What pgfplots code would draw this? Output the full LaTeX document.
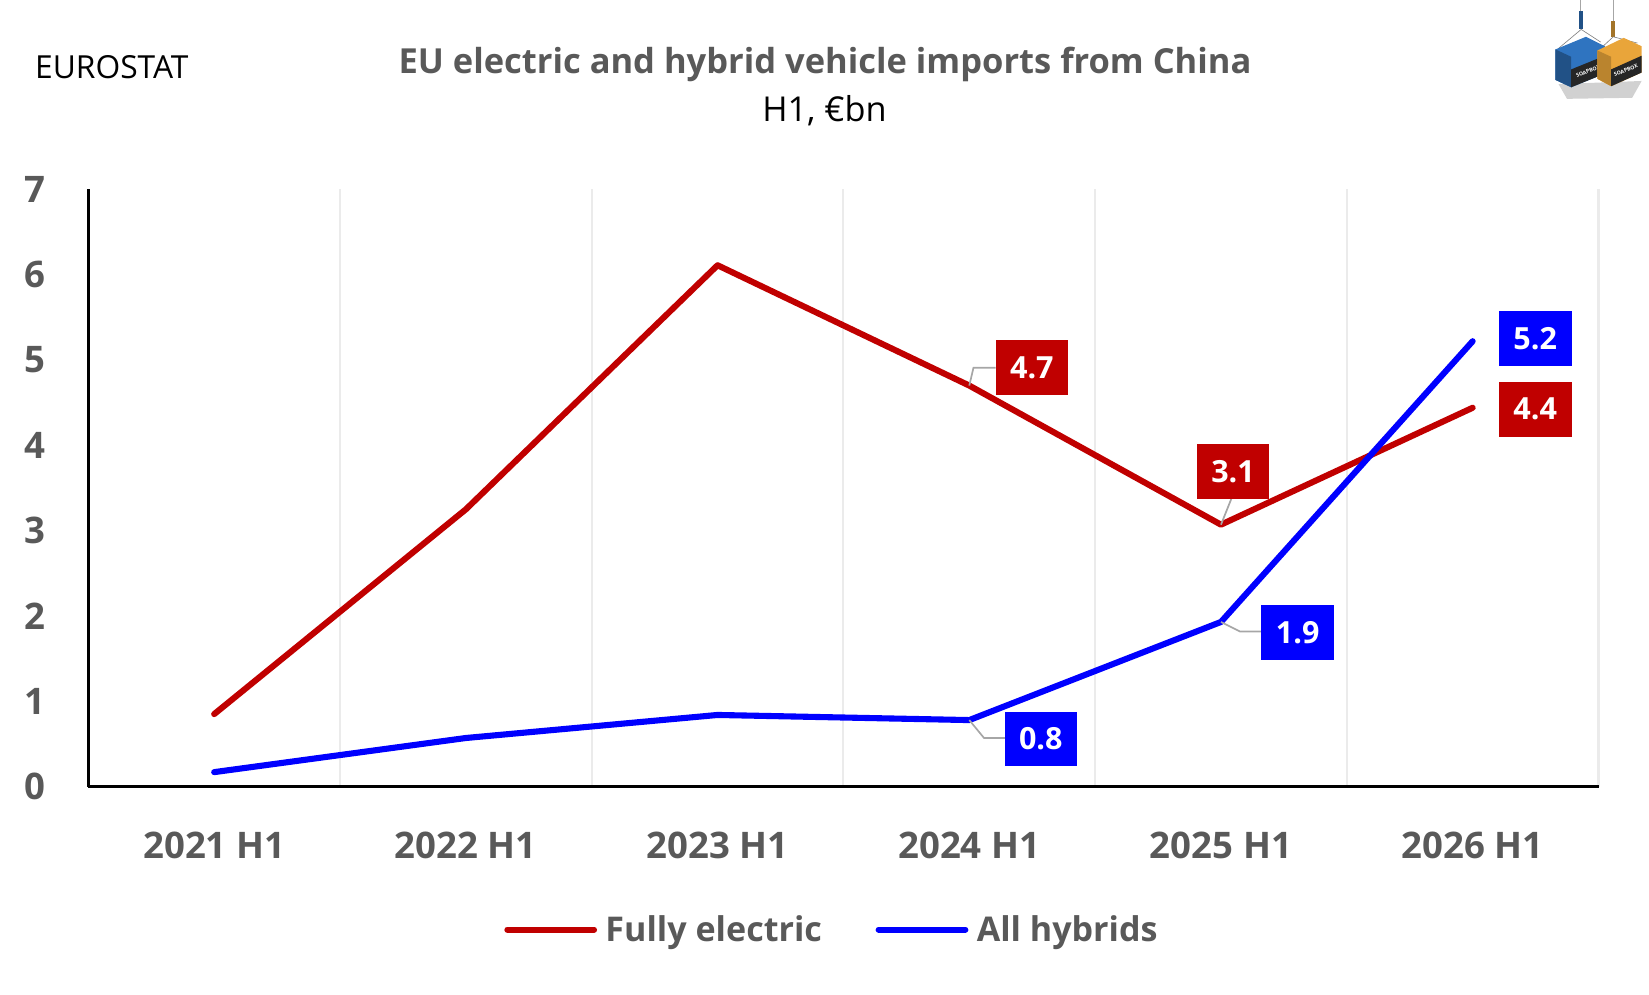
\documentclass[border=0pt]{standalone}
\usepackage{fontspec}
\setmainfont{Open Sans}
\usepackage{pgfplots}
\usepackage{pgfplotstable}
\pgfplotsset{compat=1.18}
\definecolor{fered}{HTML}{C00000}
\definecolor{hyblue}{HTML}{0000FF}
\definecolor{txtgray}{HTML}{595959}
\definecolor{gridgray}{HTML}{EBEBEB}
\definecolor{leadergray}{HTML}{A6A6A6}
\definecolor{logoblue}{HTML}{2F74C0}
\definecolor{logoorange}{HTML}{E9A53A}

\pgfplotstableread{
x fe hy
0 0.85 0.17
1 3.25 0.57
2 6.11 0.84
3 4.70 0.78
4 3.07 1.93
5 4.44 5.22
}\datatable

\tikzset{lab/.style={minimum width=34.5pt, minimum height=26pt, inner sep=0pt, text=white, font=\fontsize{14.5}{16}\selectfont\bfseries},
  lead/.style={leadergray, line width=0.8pt}}

\begin{document}
\begin{tikzpicture}
\begin{axis}[
  scale only axis, width=718pt, height=284pt,
  xmin=-0.5, xmax=5.5, ymin=0, ymax=7,
  axis lines=left, axis line style={line width=1.3pt, -, black},
  xtick={0,...,5},
  xticklabels={2021 H1,2022 H1,2023 H1,2024 H1,2025 H1,2026 H1},
  minor xtick={0.5,1.5,2.5,3.5,4.5,5.5},
  xminorgrids, minor x grid style={gridgray, line width=1pt},
  ytick={0,...,7},
  tick style={draw=none},
  /pgf/number format/assume math mode=true,
  tick label style={font=\fontsize{17.4}{20}\selectfont\bfseries, text=txtgray},
  yticklabel style={anchor=east, inner sep=0pt, xshift=-18pt},
  xticklabel style={anchor=north, inner sep=0pt, yshift=-19pt},
  legend style={at={(0.271,-0.2394)}, anchor=west, draw=none, fill=none,
    legend columns=2, font=\fontsize{16.2}{19}\selectfont\bfseries, text=txtgray,
    nodes={inner sep=0pt},
    /tikz/every odd column/.append style={column sep=4pt},
    /tikz/every even column/.append style={column sep=25.5pt}},
  legend image code/.code={\draw[#1, line cap=round] (1.4pt,0pt) -- (42.6pt,0pt);},
]
\addplot[fered, line width=2.9pt, line cap=round, line join=round] table[x=x,y=fe]{\datatable};
\addlegendentry{Fully electric}
\addplot[hyblue, line width=2.9pt, line cap=round, line join=round] table[x=x,y=hy]{\datatable};
\addlegendentry{All hybrids}

% leader lines
\draw[lead] (axis cs:3,4.70) -- ++(2pt,8.5pt) -- ++(10.5pt,0pt);
\draw[lead] (axis cs:4,3.07) -- ++(5pt,12.5pt);
\draw[lead] (axis cs:3,0.78) -- ++(7pt,-8.5pt) -- ++(10pt,0pt);
\draw[lead] (axis cs:4,1.93) -- ++(9pt,-4.5pt) -- ++(10.5pt,0pt);
% data labels
\node[lab, fill=fered] at ([xshift=29.75pt, yshift=8.5pt]axis cs:3,4.70) {4.7};
\node[lab, fill=fered] at ([xshift=5.75pt, yshift=25.25pt]axis cs:4,3.07) {3.1};
\node[lab, fill=fered] at ([xshift=29.75pt, yshift=-0.7pt]axis cs:5,4.44) {4.4};
\node[lab, fill=hyblue] at ([xshift=34pt, yshift=-9pt]axis cs:3,0.78) {0.8};
\node[lab, fill=hyblue] at ([xshift=36.5pt, yshift=-5pt]axis cs:4,1.93) {1.9};
\node[lab, fill=hyblue] at ([xshift=29.75pt, yshift=1.2pt]axis cs:5,5.22) {5.2};
\end{axis}

\begin{scope}[shift={(-42pt,374pt)}, x=0.5pt, y=-0.5pt]
\node[anchor=base, inner sep=0pt, font=\fontsize{16.4}{20}\selectfont\bfseries, text=txtgray] at (784.5,70) {EU electric and hybrid vehicle imports from China};
\node[anchor=base, inner sep=0pt, font=\fontsize{16.3}{19}\selectfont] at (784,116) {H1, €bn};
\node[anchor=base west, inner sep=0pt, font=\fontsize{15.1}{18}\selectfont] at (33,74.5) {EUROSTAT};
% logo (simplified containers)
\fill[black!18] (1482,80) -- (1561,77) -- (1552,93) -- (1490,94) -- cycle;
\draw[black!35, line width=0.3pt] (1503,0) -- (1503,10);
\draw[black!35, line width=0.3pt] (1534,0) -- (1534,20);
\fill[logoblue!70!black] (1501.5,10) rectangle (1505.5,28);
\fill[logoorange!70!black] (1532,20) rectangle (1536,35);
\draw[black!50, line width=0.3pt] (1503.5,28) -- (1482,46) (1503.5,28) -- (1522,40);
\draw[black!50, line width=0.3pt] (1534,35) -- (1521,47) (1534,35) -- (1557,41);
\fill[logoblue] (1479,47) -- (1508,35) -- (1526,44) -- (1526,70) -- (1494,83) -- (1479,76) -- cycle;
\fill[logoblue!70!black] (1479,47) -- (1494,54) -- (1494,83) -- (1479,76) -- cycle;
\fill[black!85] (1494,66) -- (1526,53) -- (1526,70) -- (1494,83) -- cycle;
\node[text=white, font=\fontsize{2.5}{3}\selectfont\bfseries, rotate=22, inner sep=0pt] at (1510,68) {SOAPBOX};
\fill[logoorange] (1519,48) -- (1544,36) -- (1561,44) -- (1561,69) -- (1532,82) -- (1519,75) -- cycle;
\fill[logoorange!80!black] (1519,48) -- (1532,54) -- (1532,82) -- (1519,75) -- cycle;
\fill[black!85] (1532,66) -- (1561,53) -- (1561,69) -- (1532,82) -- cycle;
\node[text=white, font=\fontsize{2.5}{3}\selectfont\bfseries, rotate=22, inner sep=0pt] at (1546,67) {SOAPBOX};
\end{scope}
\pgfresetboundingbox
\path[use as bounding box] (-42pt,-99pt) rectangle (742pt,374pt);
\end{tikzpicture}
\end{document}
